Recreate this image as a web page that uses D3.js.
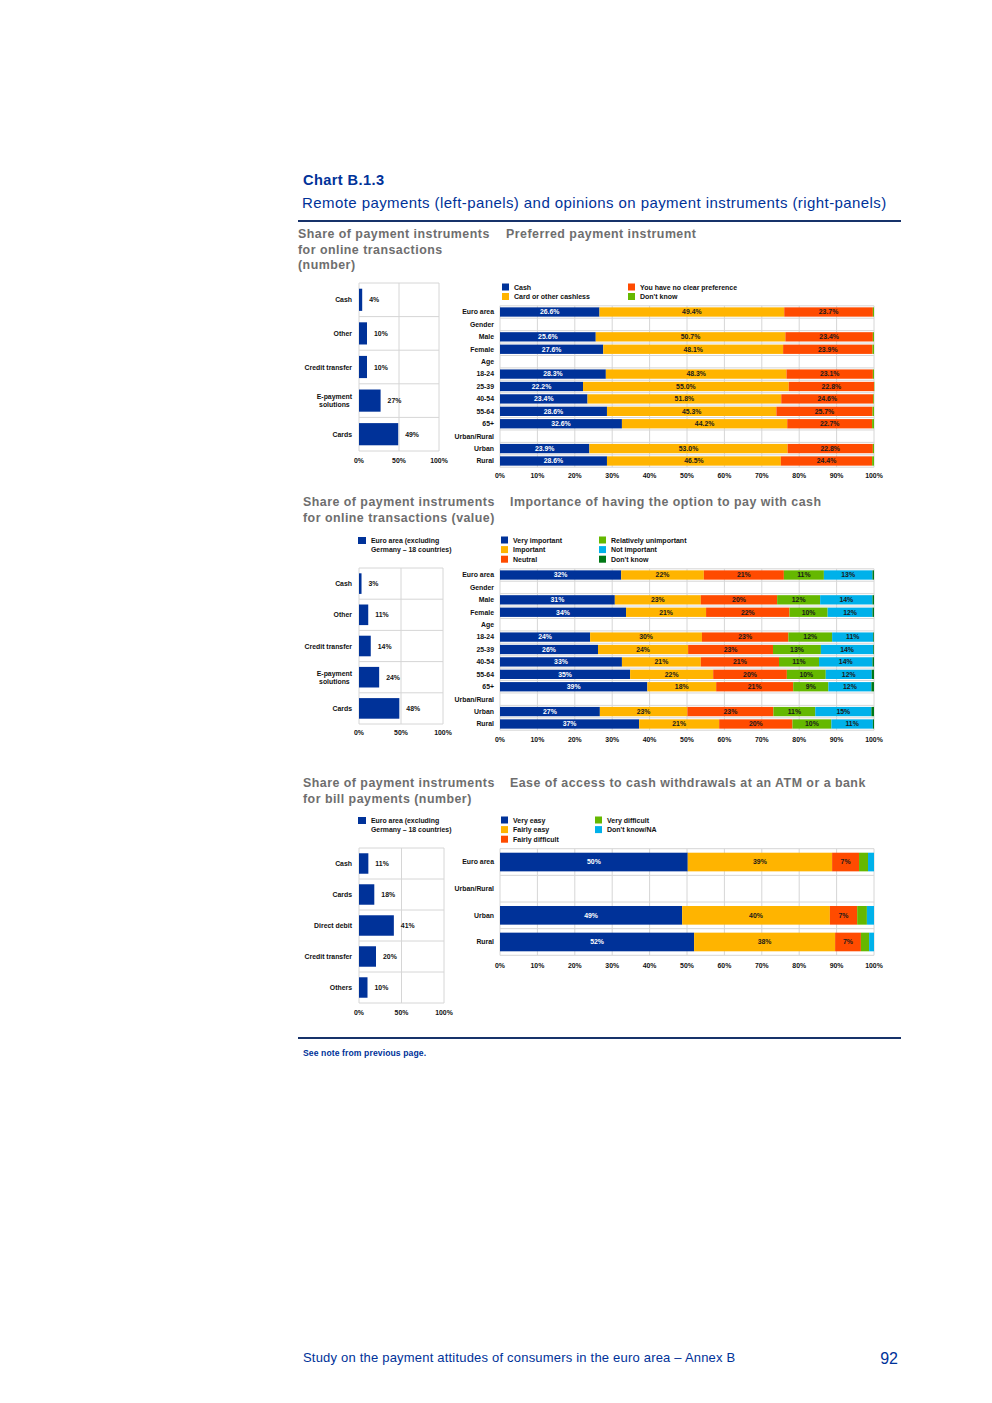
<!DOCTYPE html>
<html><head><meta charset="utf-8">
<script src="https://cdn.jsdelivr.net/npm/d3@7"></script>
<style>
body{margin:0;background:#fff;}
svg{display:block;}
text{font-family:"Liberation Sans",Arial,sans-serif;}
</style></head><body>
<svg id="c" width="992" height="1403"></svg>
<script>
// ---------- DATA ----------
const colors = ["#003299","#ffb400","#ff4b00","#65b800","#00b1ea","#007816"];

// Left panels
const onlineNumCats = ["Cash","Other","Credit transfer","E-payment|solutions","Cards"];
const onlineNumVals = [4,10,10,27,49];
const onlineValCats = ["Cash","Other","Credit transfer","E-payment|solutions","Cards"];
const onlineValVals = [3,11,14,24,48];
const billCats = ["Cash","Cards","Direct debit","Credit transfer","Others"];
const billVals = [11,18,41,20,10];
const leftTicks = [0,50,100];
const leftLegend = ["Euro area (excluding","Germany \u2013 18 countries)"];

// Preferred payment instrument
const prefRows = ["Euro area","Gender","Male","Female","Age","18-24","25-39","40-54","55-64","65+","Urban/Rural","Urban","Rural"];
const prefSeries = ["Cash","Card or other cashless","You have no clear preference","Don't know"];
const prefCash = [26.6,null,25.6,27.6,null,28.3,22.2,23.4,28.6,32.6,null,23.9,28.6];
const prefCard = [49.4,null,50.7,48.1,null,48.3,55.0,51.8,45.3,44.2,null,53.0,46.5];
const prefNone = [23.7,null,23.4,23.9,null,23.1,22.8,24.6,25.7,22.7,null,22.8,24.4];
const prefDk   = [0.3,null,0.3,0.4,null,0.3,0.1,0.2,0.4,0.5,null,0.3,0.5];

// Importance of having the option to pay with cash
const impRows = prefRows;
const impSeries = ["Very important","Important","Neutral","Relatively unimportant","Not important","Don't know"];
const impVery  = [32.4,null,30.7,33.7,null,24.1,26.2,32.6,34.8,39.4,null,26.7,37.2];
const impImp   = [22.1,null,23.0,21.4,null,29.9,24.1,21.1,22.2,18.4,null,23.4,21.4];
const impNeu   = [21.4,null,20.4,22.3,null,23.1,22.7,20.9,19.7,20.6,null,23.0,19.6];
const impRel   = [10.7,null,11.5,10.2,null,11.7,12.8,10.7,10.4,9.4,null,11.2,10.4];
const impNot   = [13.0,null,14.0,12.0,null,11.0,14.0,14.3,12.3,11.5,null,15.0,11.1];
const impDk    = [0.4,null,0.4,0.4,null,0.2,0.2,0.4,0.6,0.7,null,0.7,0.3];

// Ease of access to cash withdrawals
const easeRows = ["Euro area","Urban/Rural","Urban","Rural"];
const easeSeries = ["Very easy","Fairly easy","Fairly difficult","Very difficult","Don't know/NA"];
const easeVery = [50.2,null,48.7,51.9];
const easeFair = [38.6,null,39.5,37.7];
const easeFDif = [7.2,null,7.3,6.9];
const easeVDif = [2.4,null,2.6,2.2];
const easeDk   = [1.6,null,1.9,1.3];
const rightTicks = [0,10,20,30,40,50,60,70,80,90,100];

// ---------- DRAW ----------
const svg = d3.select("#c");
svg.append("rect").attr("width",992).attr("height",1403).attr("fill","#fff");
const navy = "#003299", grid = "#d6d6d6", txt = "#111";

// header
svg.append("text").attr("x",303).attr("y",185).attr("fill",navy).attr("font-size",14.6).attr("font-weight","bold").attr("letter-spacing",0.4).text("Chart B.1.3");
svg.append("text").attr("x",302).attr("y",208).attr("fill",navy).attr("font-size",15).attr("letter-spacing",0.42).text("Remote payments (left-panels) and opinions on payment instruments (right-panels)");
svg.append("rect").attr("x",298).attr("y",220).attr("width",603).attr("height",2).attr("fill","#17326a");
svg.append("rect").attr("x",298).attr("y",1037).attr("width",603).attr("height",2).attr("fill","#17326a");
svg.append("text").attr("x",303).attr("y",1056).attr("fill",navy).attr("font-size",8.6).attr("font-weight","bold").attr("letter-spacing",0.1).text("See note from previous page.");
svg.append("text").attr("x",303).attr("y",1362).attr("fill",navy).attr("font-size",13).attr("letter-spacing",0.2).text("Study on the payment attitudes of consumers in the euro area \u2013 Annex B");
svg.append("text").attr("x",898).attr("y",1364).attr("text-anchor","end").attr("fill",navy).attr("font-size",16).text("92");

function title(x,y,lines){
  const t = svg.append("text").attr("x",x).attr("y",y).attr("fill","#6e6e6e").attr("font-size",12.4).attr("font-weight","bold").attr("letter-spacing",0.48);
  lines.forEach((l,i)=>t.append("tspan").attr("x",x).attr("dy",i?15.5:0).text(l));
}
title(298,238,["Share of payment instruments","for online transactions","(number)"]);
title(506,238,["Preferred payment instrument"]);
title(303,506,["Share of payment instruments","for online transactions (value)"]);
title(510,506,["Importance of having the option to pay with cash"]);
title(303,787,["Share of payment instruments","for bill payments (number)"]);
title(510,787,["Ease of access to cash withdrawals at an ATM or a bank"]);

function smallText(g,x,y,s,anchor){
  return g.append("text").attr("x",x).attr("y",y).attr("font-size",6.9).attr("font-weight","bold")
    .attr("fill",txt).attr("text-anchor",anchor||"start").text(s);
}

function leftLegendDraw(y){
  svg.append("rect").attr("x",358).attr("y",y-3).attr("width",8).attr("height",7).attr("fill",colors[0]);
  smallText(svg,371,y+2.5,leftLegend[0]);
  smallText(svg,371,y+11.5,leftLegend[1]);
}

function leftPanel(cats,vals,x0,x1,y0,y1,tickY){
  const g = svg.append("g");
  const x = d3.scaleLinear().domain([0,100]).range([x0,x1]);
  const y = d3.scaleBand().domain(cats).range([y0,y1]).paddingInner(0.34).paddingOuter(0.17);
  const step = y.step();
  g.selectAll(".vg").data(leftTicks).join("line").attr("x1",d=>x(d)).attr("x2",d=>x(d)).attr("y1",y0).attr("y2",y1).attr("stroke",grid);
  g.selectAll(".hg").data(d3.range(cats.length+1)).join("line").attr("x1",x0).attr("x2",x1)
    .attr("y1",i=>y0+i*step).attr("y2",i=>y0+i*step).attr("stroke",grid);
  g.selectAll(".bar").data(vals).join("rect").attr("x",x(0)).attr("y",(d,i)=>y(cats[i]))
    .attr("width",d=>x(d)-x(0)).attr("height",y.bandwidth()).attr("fill",colors[0]);
  vals.forEach((v,i)=>{ smallText(g,x(v)+7,y(cats[i])+y.bandwidth()/2+2.5,v+"%"); });
  cats.forEach(c=>{
    const parts = c.split("|");
    const cy = y(c)+y.bandwidth()/2;
    if(parts.length===1){ smallText(g,x0-7,cy+2.5,c,"end"); }
    else{
      const t1 = smallText(g,0,0,parts[0]); const w1 = t1.node().getComputedTextLength();
      const t2 = smallText(g,0,0,parts[1]); const w2 = t2.node().getComputedTextLength();
      const cx = x0-7-Math.max(w1,w2)/2;
      t1.attr("x",cx).attr("y",cy-1.5).attr("text-anchor","middle");
      t2.attr("x",cx).attr("y",cy+6.5).attr("text-anchor","middle");
    }
  });
  leftTicks.forEach(t=>smallText(g,x(t),tickY,t+"%","middle"));
}

function legend(items,cols,y0,dy){
  items.forEach((s,i)=>{
    const col = Math.floor(i/cols.rows), row = i%cols.rows;
    const xx = cols.x[col], yy = y0+row*dy;
    svg.append("rect").attr("x",xx).attr("y",yy-3.5).attr("width",7).attr("height",7).attr("fill",colors[i]);
    smallText(svg,xx+12,yy+2.5,s).attr("font-size",7);
  });
}

function stackPanel(rows,seriesNames,seriesVals,x0,x1,y0,y1,tickY,pad,fmt){
  const g = svg.append("g");
  const x = d3.scaleLinear().domain([0,100]).range([x0,x1]);
  const y = d3.scaleBand().domain(rows).range([y0,y1]).paddingInner(pad).paddingOuter(pad/2);
  const step = y.step();
  g.selectAll(".vg").data(rightTicks).join("line").attr("x1",d=>x(d)).attr("x2",d=>x(d)).attr("y1",y0).attr("y2",y1).attr("stroke",grid);
  g.selectAll(".hg").data(d3.range(rows.length+1)).join("line").attr("x1",x0).attr("x2",x1)
    .attr("y1",i=>y0+i*step).attr("y2",i=>y0+i*step).attr("stroke",grid);
  const table = rows.map((r,i)=>{const o={row:r}; seriesNames.forEach((s,k)=>o[s]=seriesVals[k][i]); return o;}).filter(d=>d[seriesNames[0]]!=null);
  const stack = d3.stack().keys(seriesNames)(table);
  stack.forEach((layer,k)=>{
    g.selectAll(null).data(layer).join("rect").attr("x",d=>x(d[0])).attr("y",d=>y(d.data.row))
      .attr("width",d=>x(d[1])-x(d[0])).attr("height",y.bandwidth()).attr("fill",colors[k]);
    layer.forEach(d=>{
      const v = d[1]-d[0];
      if(v>=5){
        smallText(g,(x(d[0])+x(d[1]))/2,y(d.data.row)+y.bandwidth()/2+2.4,fmt(d.data[seriesNames[k]]),"middle")
          .attr("fill",k===0?"#fff":"#1a1a1a");
      }
    });
  });
  rows.forEach(r=>smallText(g,x0-6,y(r)+y.bandwidth()/2+2.4,r,"end"));
  rightTicks.forEach(t=>smallText(g,x(t),tickY,t+"%","middle"));
}

// Panel 1
leftPanel(onlineNumCats,onlineNumVals,359,439,283,451,463);
legend(prefSeries,{rows:2,x:[502,628]},287,9.5);
stackPanel(prefRows,prefSeries,[prefCash,prefCard,prefNone,prefDk],500,874,305.8,467.2,478,0.25,v=>v.toFixed(1)+"%");

// Panel 2
leftLegendDraw(540);
leftPanel(onlineValCats,onlineValVals,359,443,568,724,735);
legend(impSeries,{rows:3,x:[501,599]},540,9.6);
stackPanel(impRows,impSeries,[impVery,impImp,impNeu,impRel,impNot,impDk],500,874,568.8,730.2,742,0.25,v=>Math.round(v)+"%");

// Panel 3
leftLegendDraw(820);
leftPanel(billCats,billVals,359,444,848,1003,1015);
legend(easeSeries,{rows:3,x:[501,595]},820,9.6);
stackPanel(easeRows,easeSeries,[easeVery,easeFair,easeFDif,easeVDif,easeDk],500,874,848.7,955.3,968,0.3,v=>Math.round(v)+"%");
</script>
</body></html>
